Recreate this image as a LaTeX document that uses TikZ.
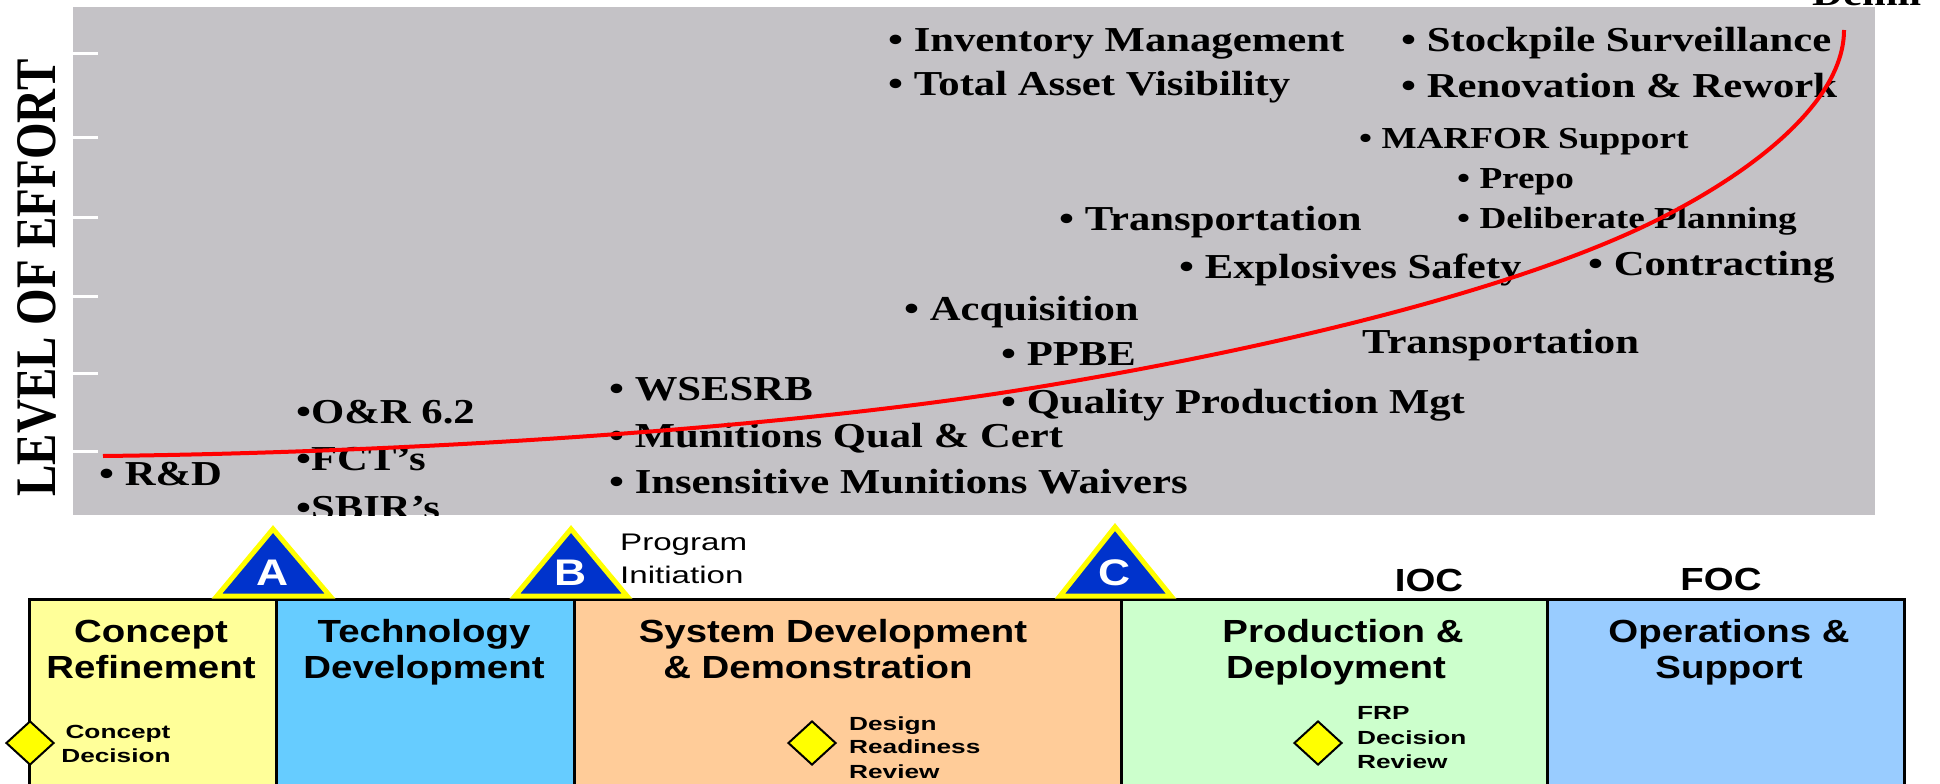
\documentclass[tikz,border=0pt]{standalone}
\usepackage{fontspec}
\usetikzlibrary{shapes.geometric}
\newfontfamily\tnr{Liberation Serif}[FakeStretch=1.22]
\newfontfamily\tnrn{Liberation Serif}
\newfontfamily\ari{Liberation Sans}[FakeStretch=1.2]
\newfontfamily\ariw{Liberation Sans}[FakeStretch=1.38]
\definecolor{panelgray}{RGB}{196,194,198}
\definecolor{crfill}{RGB}{255,255,153}
\definecolor{tdfill}{RGB}{102,204,255}
\definecolor{sddfill}{RGB}{255,204,153}
\definecolor{pdfill}{RGB}{204,255,204}
\definecolor{osfill}{RGB}{153,204,255}
\definecolor{msblue}{RGB}{0,51,204}
\definecolor{msyellow}{RGB}{255,255,0}
\begin{document}
\begin{tikzpicture}[x=1pt,y=-1pt,
  item/.style={anchor=base west, inner sep=0pt, font=\tnr\bfseries\fontsize{35}{40}\selectfont},
  sitem/.style={anchor=base west, inner sep=0pt, font=\tnr\bfseries\fontsize{30.5}{36}\selectfont},
  tick/.style={draw=white, line width=3pt},
  effort/.style={red, line width=4pt},
  phase/.style={draw=black, line width=3pt, anchor=north west, inner sep=0pt, minimum height=220pt},
  ptitle/.style={anchor=base, inner sep=0pt, font=\ari\bfseries\fontsize{32}{36}\selectfont},
  mstone/.style={fill=msblue, draw=msyellow, line width=5pt, line join=miter},
  mletter/.style={anchor=base, inner sep=0pt, text=white, font=\ari\bfseries\fontsize{37}{40}\selectfont},
  dpoint/.style={diamond, draw=black, line width=2pt, fill=msyellow, minimum width=48pt, minimum height=44pt, inner sep=0pt},
  dlabel/.style={anchor=base west, inner sep=0pt, font=\ariw\bfseries\fontsize{19}{22}\selectfont},
  dlabelc/.style={anchor=base, inner sep=0pt, font=\ariw\bfseries\fontsize{19}{22}\selectfont},
  caplabel/.style={anchor=base, inner sep=0pt, font=\ari\bfseries\fontsize{32}{36}\selectfont},
  plabel/.style={anchor=base west, inner sep=0pt, font=\ariw\fontsize{24}{28}\selectfont}
]
\useasboundingbox (0,0) rectangle (1940,784);
\fill[white] (0,0) rectangle (1940,784);

% effort panel
\fill[panelgray] (73,7) rectangle (1875,515);
\foreach \yy in {54,137,217,296,373,451} \draw[tick] (73,\yy) -- (98,\yy);

\node[rotate=90, inner sep=0pt, font=\tnrn\bfseries\fontsize{47}{50}\selectfont] (loe) at (37,278) {\scalebox{1}[1.22]{LEVEL OF EFFORT}};

\node[item] (demil) at (1812,6) {Demil};

\begin{scope}
\clip (73,7) rectangle (1875,515);
\node[item] (rd) at (99,485) {• R\&D};
\node[item] (or) at (296,423) {•O\&R 6.2};
\node[item] (fct) at (296,470) {•FCT’s};
\node[item] (sbir) at (296,519) {•SBIR’s};
\node[item] (wse) at (609,400) {• WSESRB};
\node[item] (mqc) at (609,447) {• Munitions Qual \& Cert};
\node[item] (imw) at (609,493) {• Insensitive Munitions Waivers};
\node[item] (inv) at (888,52) {• Inventory Management};
\node[item] (tav) at (888,95) {• Total Asset Visibility};
\node[item] (acq) at (904,320) {• Acquisition};
\node[item] (ppbe) at (1001,365) {• PPBE};
\node[item] (qpm) at (1001,413) {• Quality Production Mgt};
\node[item] (trA) at (1059,230) {• Transportation};
\node[item] (exs) at (1179,278) {• Explosives Safety};
\node[item] (sts) at (1401,52) {• Stockpile Surveillance};
\node[item] (rnr) at (1401,97) {• Renovation \& Rework};
\node[sitem] (mar) at (1359,148) {• MARFOR Support};
\node[sitem] (pre) at (1457,188) {• Prepo};
\node[sitem] (dp) at (1457,228) {• Deliberate Planning};
\node[item] (con) at (1588,275) {• Contracting};
\node[item] (trB) at (1362,353) {Transportation};
\end{scope}

\draw[effort] (103,456) .. controls (450,452) and (800,425) .. (1020,390)
  .. controls (1240,354.8) and (1507,295) .. (1657,220)
  .. controls (1757,170) and (1844,100) .. (1844,30);

% phases
\node[phase, fill=crfill, minimum width=247pt] (cr) at (28,598) {};
\node[phase, fill=tdfill, minimum width=298pt] (td) at (275,598) {};
\node[phase, fill=sddfill, minimum width=547pt] (sdd) at (573,598) {};
\node[phase, fill=pdfill, minimum width=426pt] (pd) at (1120,598) {};
\node[phase, fill=osfill, minimum width=357pt] (os) at (1546,598) {};

\node[ptitle] (crA) at (151,642) {Concept};
\node[ptitle] (crB) at (151,678) {Refinement};
\node[ptitle] (tdA) at (424,642) {Technology};
\node[ptitle] (tdB) at (424,678) {Development};
\node[ptitle] (sdA) at (833,642) {System Development};
\node[ptitle] (sdB) at (818,678) {\& Demonstration};
\node[ptitle] (pdA) at (1343,642) {Production \&};
\node[ptitle] (pdB) at (1336,678) {Deployment};
\node[ptitle] (osA) at (1729,642) {Operations \&};
\node[ptitle] (osB) at (1729,678) {Support};

\node[caplabel] (ioc) at (1429,591) {IOC};
\node[caplabel] (foc) at (1721,590) {FOC};

% milestones
\draw[mstone] (217,596) -- (273,529) -- (330,596) -- cycle;
\node[mletter] (mA) at (273,585) {A};
\draw[mstone] (515,596) -- (571,529) -- (627,596) -- cycle;
\node[mletter] (mB) at (571,585) {B};
\draw[mstone] (1060,596) -- (1115,527) -- (1171,596) -- cycle;
\node[mletter] (mC) at (1115,585) {C};

\node[plabel] (pi1) at (620,550) {Program};
\node[plabel] (pi2) at (620,583) {Initiation};

% decision points
\node[dpoint] (cd) at (30,743) {};
\node[dlabelc] (cd1) at (118,738) {Concept};
\node[dlabelc] (cd2) at (116,762) {Decision};
\node[dpoint] (drr) at (812,743) {};
\node[dlabel] (drr1) at (849,730) {Design};
\node[dlabel] (drr2) at (849,753) {Readiness};
\node[dlabel] (drr3) at (849,778) {Review};
\node[dpoint] (frp) at (1318,743) {};
\node[dlabel] (frp1) at (1357,719) {FRP};
\node[dlabel] (frp2) at (1357,744) {Decision};
\node[dlabel] (frp3) at (1357,768) {Review};
\end{tikzpicture}
\end{document}
